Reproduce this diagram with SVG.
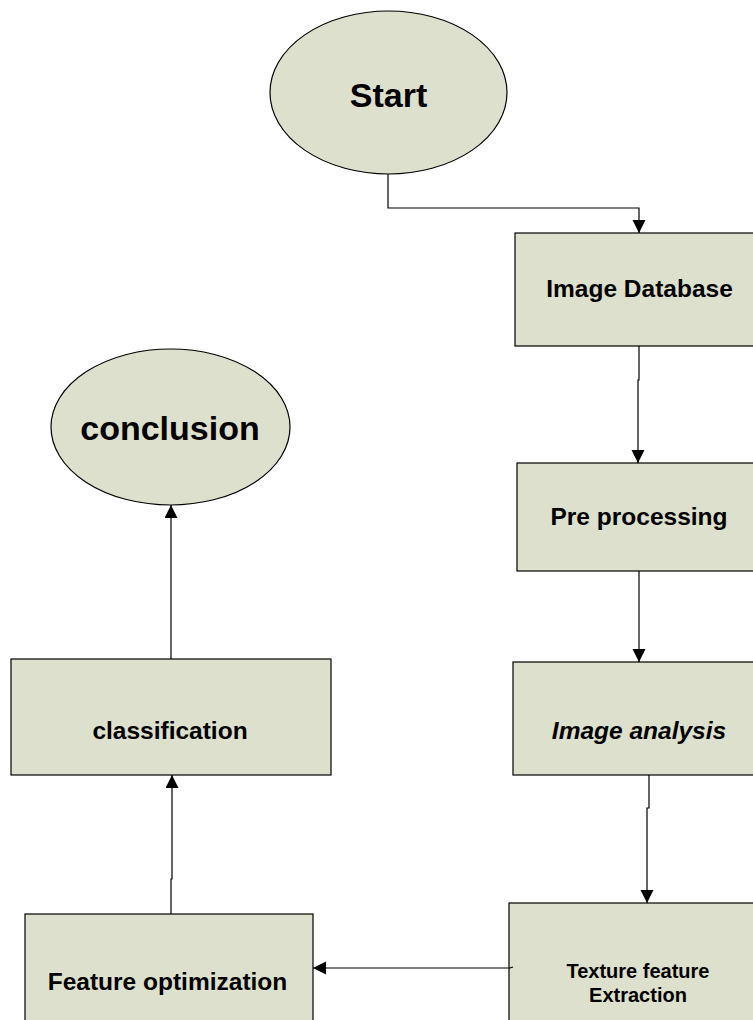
<svg xmlns="http://www.w3.org/2000/svg" width="753" height="1020" viewBox="0 0 753 1020">
<style>
.n{fill:#dde0cc;stroke:#000;stroke-width:1.2}
.t{font-family:"Liberation Sans",Arial,sans-serif;font-weight:bold;text-anchor:middle;fill:#000}
.c{fill:none;stroke:#000;stroke-width:1.2}
</style>
<defs>
<marker id="ah" markerUnits="userSpaceOnUse" markerWidth="14" markerHeight="14" refX="13" refY="6.5" orient="auto">
<path d="M0,0 L13,6.5 L0,13 Z" fill="#000"/>
</marker>
</defs>
<rect width="753" height="1020" fill="#fff"/>
<g id="start"><ellipse class="n" cx="388.5" cy="92.5" rx="118.5" ry="81.5"/><text class="t" x="388.5" y="107" font-size="34">Start</text></g>
<g id="imagedb"><rect class="n" x="515" y="233" width="260" height="113"/><text class="t" x="639.5" y="297" font-size="24.5">Image Database</text></g>
<g id="preproc"><rect class="n" x="517" y="463" width="260" height="108"/><text class="t" x="639" y="525" font-size="24.5">Pre processing</text></g>
<g id="analysis"><rect class="n" x="513" y="662" width="260" height="113"/><text class="t" x="639" y="739" font-size="24.5" font-style="italic">Image analysis</text></g>
<g id="texture"><rect class="n" x="509" y="903" width="260" height="130"/><text class="t" x="638" y="978" font-size="20">Texture feature</text><text class="t" x="638" y="1002" font-size="20">Extraction</text></g>
<g id="featopt"><rect class="n" x="25" y="914" width="288" height="120"/><text class="t" x="167.5" y="990" font-size="24.5">Feature optimization</text></g>
<g id="classif"><rect class="n" x="11" y="659" width="320" height="116"/><text class="t" x="170" y="739" font-size="24.5">classification</text></g>
<g id="conclusion"><ellipse class="n" cx="170.5" cy="427" rx="119.5" ry="78"/><text class="t" x="170" y="440" font-size="34">conclusion</text></g>
<g id="connectors">
<polyline class="c" points="388,174 388,208 639,208 639,233" marker-end="url(#ah)"/>
<polyline class="c" points="639,346 639,380 638,380 638,463" marker-end="url(#ah)"/>
<polyline class="c" points="639,571 639,662" marker-end="url(#ah)"/>
<polyline class="c" points="649,775 649,808 647,808 647,903" marker-end="url(#ah)"/>
<polyline class="c" points="513,967 510,968 313,968" marker-end="url(#ah)"/>
<polyline class="c" points="171,914 171,879 172,879 172,775" marker-end="url(#ah)"/>
<polyline class="c" points="171,659 171,505" marker-end="url(#ah)"/>
</g>
</svg>
